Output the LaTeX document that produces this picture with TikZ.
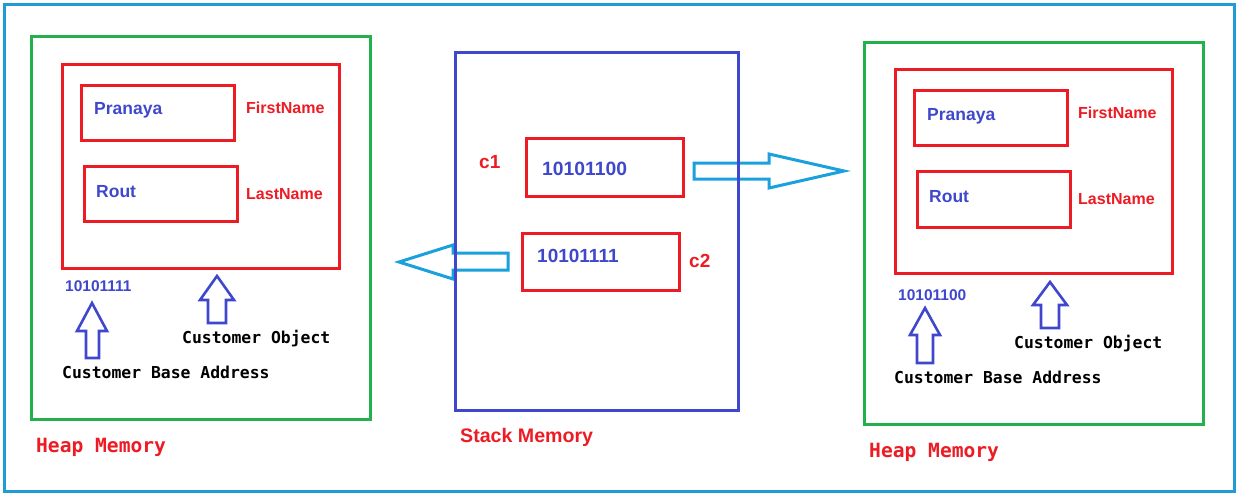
\documentclass[tikz,border=0pt]{standalone}
\usepackage{fontspec}
\setmainfont{Liberation Sans}
\newfontfamily\monof{DejaVu Sans Mono}
\definecolor{frameblue}{HTML}{1F9BD7}
\definecolor{arrblue}{HTML}{1AA0DC}
\definecolor{indigo}{HTML}{3F48CC}
\definecolor{pred}{HTML}{ED1C24}
\definecolor{pgreen}{HTML}{22B14C}
\begin{document}
\begin{tikzpicture}[x=1pt,y=-1pt,
  box/.style={draw, line width=3pt, inner sep=0pt, outer sep=0pt, anchor=north west},
  redbox/.style={box, draw=pred},
  greenbox/.style={box, draw=pgreen},
  stackbox/.style={box, draw=indigo},
  txt/.style={anchor=base west, inner sep=0pt, font=\bfseries},
  val/.style={txt, text=indigo},
  lab/.style={txt, text=pred},
  mono/.style={anchor=base west, inner sep=0pt, font=\monof\bfseries\fontsize{16.4}{18}\selectfont},
  heaplab/.style={anchor=base west, inner sep=0pt, text=pred, font=\monof\bfseries\fontsize{19.6}{22}\selectfont},
  uparrow/.style={draw=indigo, line width=2.6pt, line join=miter},
  hollow/.style={draw=arrblue, line width=3pt, line join=miter}
]
\useasboundingbox (0,0) rectangle (1241,498);
\fill[white] (0,0) rectangle (1241,498);
\node[box, draw=frameblue, minimum width=1230pt, minimum height=487pt] (frame) at (4,4) {};

% ---------- left heap ----------
\node[greenbox, minimum width=339pt, minimum height=383pt] (lheap) at (31,36) {};
\node[redbox, minimum width=277pt, minimum height=204pt] (lobj) at (62,64) {};
\node[redbox, minimum width=153pt, minimum height=55pt] (lfirst) at (81,85) {};
\node[redbox, minimum width=153pt, minimum height=55pt] (llast) at (84,166) {};
\node[val, font=\bfseries\fontsize{17.5}{20}\selectfont] (lpr) at (94,114) {Pranaya};
\node[val, font=\bfseries\fontsize{17.5}{20}\selectfont] (lro) at (96,197) {Rout};
\node[lab, font=\bfseries\fontsize{16}{18}\selectfont] (lfn) at (246,113) {FirstName};
\node[lab, font=\bfseries\fontsize{16}{18}\selectfont] (lln) at (246,199) {LastName};
\node[val, font=\bfseries\fontsize{15.5}{18}\selectfont] (laddr) at (65,291) {10101111};
\draw[uparrow] (92,303) -- (107,331) -- (99,331) -- (99,358) -- (86,358) -- (86,331) -- (77,331) -- cycle;
\draw[uparrow] (217,276) -- (234,300) -- (226,300) -- (226,323) -- (208,323) -- (208,300) -- (200,300) -- cycle;
\node[mono] (lco) at (182,343) {Customer Object};
\node[mono] (lcba) at (62,378) {Customer Base Address};
\node[heaplab] (lhm) at (36,452) {Heap Memory};

% ---------- arrows ----------
\draw[hollow] (694,163) -- (769,163) -- (769,154) -- (844,171) -- (769,188) -- (769,179) -- (694,179) -- cycle;
\draw[hollow] (508,253) -- (453,253) -- (453,245) -- (399,262) -- (453,279) -- (453,270) -- (508,270) -- cycle;

% ---------- stack ----------
\node[stackbox, minimum width=283pt, minimum height=358pt] (stack) at (455,52) {};
\node[redbox, minimum width=157pt, minimum height=58pt] (c1box) at (526,138) {};
\node[redbox, minimum width=157pt, minimum height=57pt] (c2box) at (522,233) {};
\node[lab, font=\bfseries\fontsize{19}{22}\selectfont] (c1) at (479,168) {c1};
\node[lab, font=\bfseries\fontsize{19}{22}\selectfont] (c2) at (689,267) {c2};
\node[val, font=\bfseries\fontsize{19.3}{22}\selectfont] (c1v) at (542,175) {10101100};
\node[val, font=\bfseries\fontsize{19}{22}\selectfont] (c2v) at (537,262) {10101111};
\node[lab, font=\bfseries\fontsize{19.6}{22}\selectfont] (sm) at (460,442) {Stack Memory};

% ---------- right heap ----------
\node[greenbox, minimum width=339pt, minimum height=382pt] (rheap) at (864,42) {};
\node[redbox, minimum width=277pt, minimum height=204pt] (robj) at (895,69) {};
\node[redbox, minimum width=153pt, minimum height=55pt] (rfirst) at (914,90) {};
\node[redbox, minimum width=153pt, minimum height=56pt] (rlast) at (917,171) {};
\node[val, font=\bfseries\fontsize{17.5}{20}\selectfont] (rpr) at (927,120) {Pranaya};
\node[val, font=\bfseries\fontsize{17.5}{20}\selectfont] (rro) at (929,202) {Rout};
\node[lab, font=\bfseries\fontsize{16}{18}\selectfont] (rfn) at (1078,118) {FirstName};
\node[lab, font=\bfseries\fontsize{16}{18}\selectfont] (rln) at (1078,204) {LastName};
\node[val, font=\bfseries\fontsize{15.5}{18}\selectfont] (raddr) at (898,300) {10101100};
\draw[uparrow] (925,308) -- (940,335) -- (933,335) -- (933,363) -- (917,363) -- (917,335) -- (910,335) -- cycle;
\draw[uparrow] (1050,282) -- (1067,305) -- (1059,305) -- (1059,328) -- (1041,328) -- (1041,305) -- (1033,305) -- cycle;
\node[mono] (rco) at (1014,348) {Customer Object};
\node[mono] (rcba) at (894,383) {Customer Base Address};
\node[heaplab] (rhm) at (869,457) {Heap Memory};
\end{tikzpicture}
\end{document}
